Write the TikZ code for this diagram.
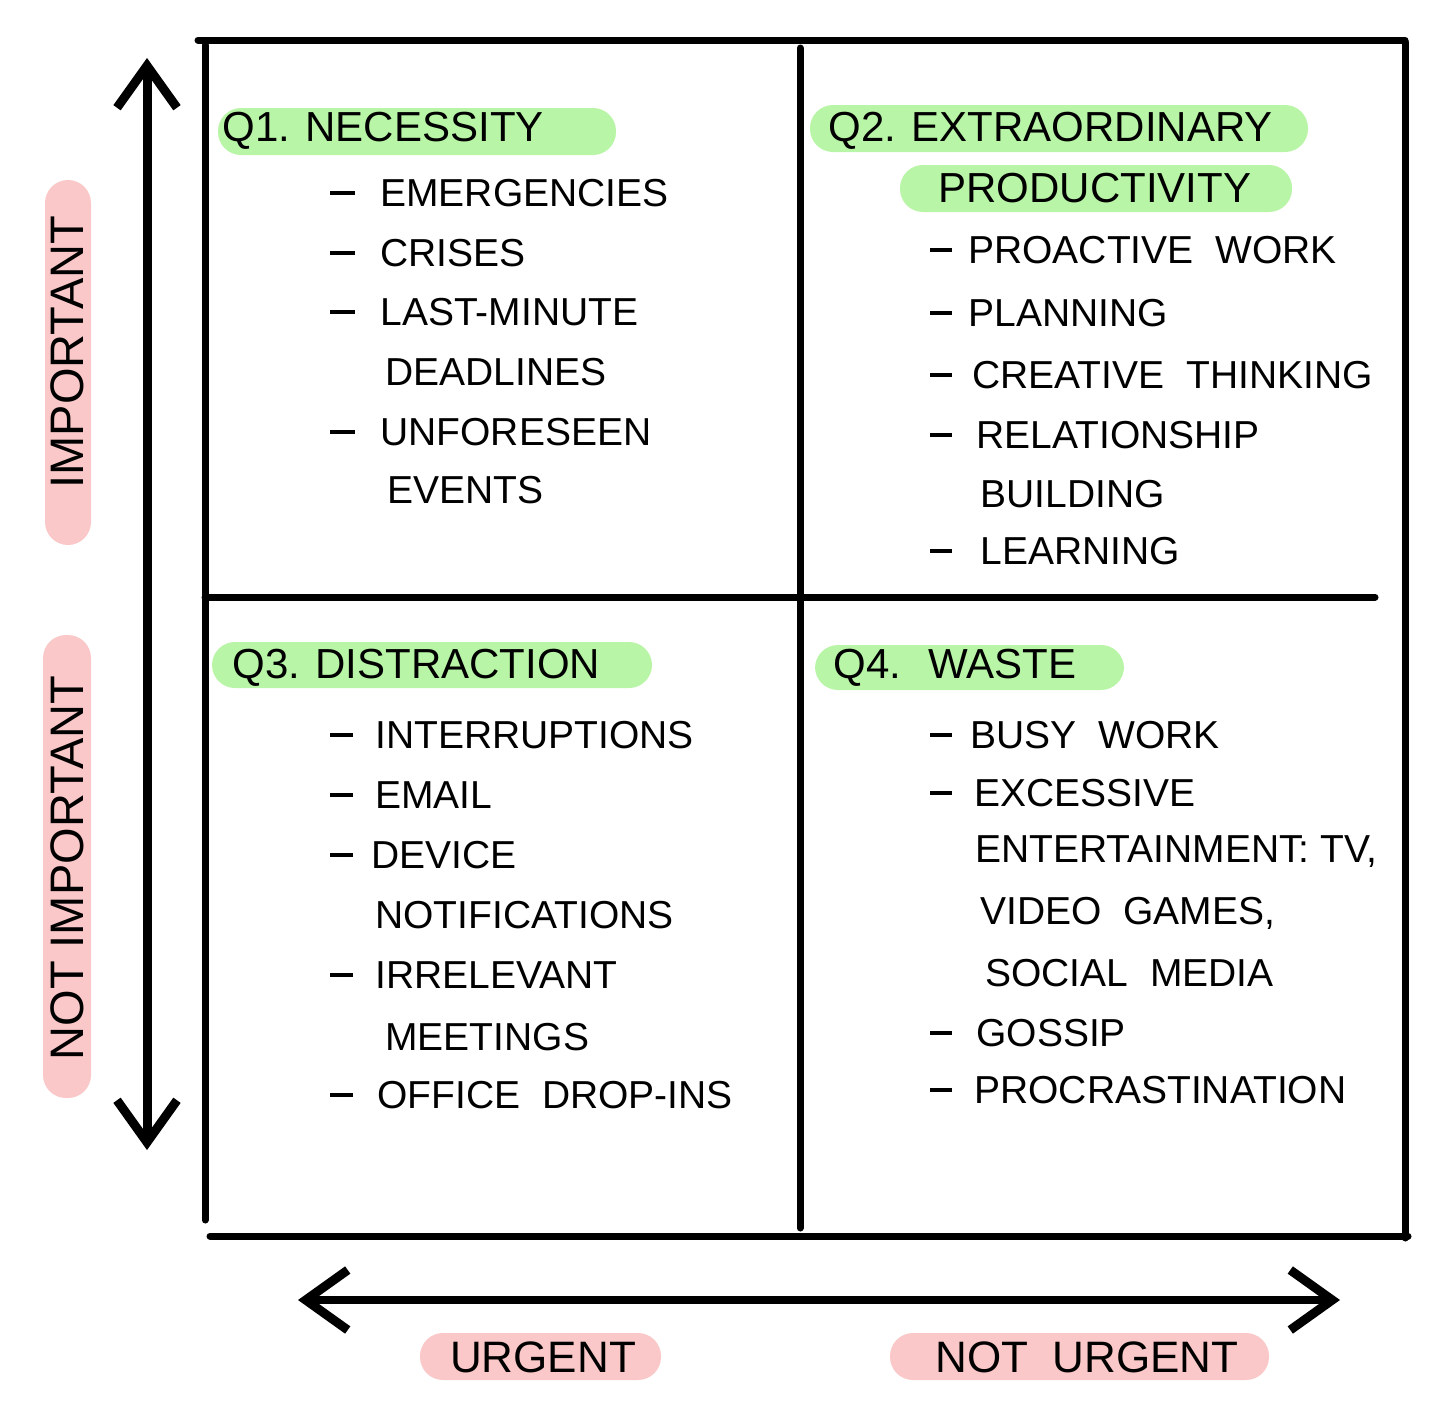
\documentclass[tikz,border=0pt]{standalone}
\usepackage{fontspec}
\setmainfont{Liberation Sans}
\usetikzlibrary{arrows.meta}
\definecolor{pillgreen}{RGB}{184,245,166}
\definecolor{pillpink}{RGB}{250,200,200}
\newcommand{\itemdash}[1]{\rule[0.3em]{#1}{2pt}}
\begin{document}
\begin{tikzpicture}[x=0.5pt,y=-0.5pt,
  gridline/.style={line width=3.5pt,line cap=round},
  bigarrow/.style={line width=4.5pt,line cap=round,
    {Straight Barb[length=21pt,width=30pt,line width=4.5pt]}-{Straight Barb[length=21pt,width=30pt,line width=4.5pt]}},
  gpill/.style={fill=pillgreen,rounded corners=11.5pt},
  ppill/.style={fill=pillpink,rounded corners=11.5pt},
  itemtxt/.style={anchor=west,inner sep=0pt,font=\fontsize{19.5}{22}\selectfont},
  headtxt/.style={anchor=west,inner sep=0pt,font=\fontsize{21}{25}\selectfont},
  axtxt/.style={inner sep=0pt,font=\fontsize{22}{26}\selectfont},
  vaxtxt/.style={inner sep=0pt,rotate=90,font=\fontsize{23.5}{26}\selectfont}]
\path[use as bounding box] (0,0) rectangle (1450,1414);

% pills
\fill[ppill] (45,180) rectangle (91,545);
\fill[ppill] (43,635) rectangle (91,1098);
\fill[ppill] (420,1333) rectangle (661,1380);
\fill[ppill] (890,1333) rectangle (1269,1380);
\fill[gpill] (218,108) rectangle (616,155);
\fill[gpill] (810,105) rectangle (1308,152);
\fill[gpill] (900,165) rectangle (1292,212);
\fill[gpill] (212,642) rectangle (652,688);
\fill[gpill] (815,645) rectangle (1124,690);

% grid
\coordinate (tl) at (198,40);
\coordinate (tr) at (1405,40);
\coordinate (lt) at (205,45);
\coordinate (lb) at (205,1220);
\coordinate (rt) at (1405,42);
\coordinate (rb) at (1405,1238);
\coordinate (bl) at (210,1236);
\coordinate (br) at (1408,1236);
\coordinate (mt) at (800,48);
\coordinate (mb) at (800,1228);
\coordinate (ml) at (205,597);
\coordinate (mr) at (1375,597);
\draw[gridline] (tl) -- (tr);
\draw[gridline] (lt) -- (lb);
\draw[gridline] (rt) -- (rb);
\draw[gridline] (bl) -- (br);
\draw[gridline] (mt) -- (mb);
\draw[gridline] (ml) -- (mr);

% axes arrows
\coordinate (vtop) at (147,58);
\coordinate (vbot) at (147,1150);
\coordinate (hleft) at (298,1300);
\coordinate (hright) at (1340,1300);
\draw[bigarrow] (vbot) -- (vtop);
\draw[bigarrow,line width=4pt] (hleft) -- (hright);

% axis labels
\node[vaxtxt] (imp) at (67,352) {IMPORTANT};
\node[vaxtxt] (nimp) at (67,868) {NOT IMPORTANT};
\node[axtxt] (urg) at (543,1357) {URGENT};
\node[axtxt] (nurg) at (1087,1357) {NOT \ URGENT};

% headings
\node[headtxt] (q1) at (222,131) {Q1. NECESSITY};
\node[headtxt] (q2) at (828,131) {Q2. EXTRAORDINARY};
\node[headtxt] (q2b) at (938,188) {PRODUCTIVITY};
\node[headtxt] (q3) at (232,668) {Q3. DISTRACTION};
\node[headtxt] (q4) at (833,668) {Q4. \ WASTE};

% Q1 items
\node[itemtxt] (a1) at (330,193) {\itemdash{12.5pt}\hspace{12.5pt}EMERGENCIES};
\node[itemtxt] (a2) at (330,253) {\itemdash{12.5pt}\hspace{12.5pt}CRISES};
\node[itemtxt] (a3) at (330,312) {\itemdash{12.5pt}\hspace{12.5pt}LAST-MINUTE};
\node[itemtxt] (a4) at (385,372) {DEADLINES};
\node[itemtxt] (a5) at (330,432) {\itemdash{12.5pt}\hspace{12.5pt}UNFORESEEN};
\node[itemtxt] (a6) at (387,490) {EVENTS};

% Q2 items
\node[itemtxt] (b1) at (930,250) {\itemdash{11pt}\hspace{8pt}PROACTIVE \ WORK};
\node[itemtxt] (b2) at (930,313) {\itemdash{11pt}\hspace{8pt}PLANNING};
\node[itemtxt] (b3) at (930,375) {\itemdash{11pt}\hspace{10pt}CREATIVE \ THINKING};
\node[itemtxt] (b4) at (930,435) {\itemdash{11pt}\hspace{12pt}RELATIONSHIP};
\node[itemtxt] (b5) at (980,494) {BUILDING};
\node[itemtxt] (b6) at (930,551) {\itemdash{11pt}\hspace{14pt}LEARNING};

% Q3 items
\node[itemtxt] (c1) at (330,735) {\itemdash{11.5pt}\hspace{11pt}INTERRUPTIONS};
\node[itemtxt] (c2) at (330,795) {\itemdash{11.5pt}\hspace{11pt}EMAIL};
\node[itemtxt] (c3) at (330,855) {\itemdash{11.5pt}\hspace{9pt}DEVICE};
\node[itemtxt] (c4) at (375,915) {NOTIFICATIONS};
\node[itemtxt] (c5) at (330,975) {\itemdash{11.5pt}\hspace{11pt}IRRELEVANT};
\node[itemtxt] (c6) at (385,1037) {MEETINGS};
\node[itemtxt] (c7) at (330,1095) {\itemdash{11.5pt}\hspace{12pt}OFFICE \ DROP-INS};

% Q4 items
\node[itemtxt] (d1) at (930,735) {\itemdash{11pt}\hspace{9pt}BUSY \ WORK};
\node[itemtxt] (d2) at (930,793) {\itemdash{11pt}\hspace{11pt}EXCESSIVE};
\node[itemtxt] (d3) at (975,852) {ENTERTAINMENT: TV,};
\node[itemtxt] (d4) at (980,913) {VIDEO \ GAMES,};
\node[itemtxt] (d5) at (985,973) {SOCIAL \ MEDIA};
\node[itemtxt] (d6) at (930,1033) {\itemdash{11pt}\hspace{12pt}GOSSIP};
\node[itemtxt] (d7) at (930,1090) {\itemdash{11pt}\hspace{11pt}PROCRASTINATION};
\end{tikzpicture}
\end{document}
